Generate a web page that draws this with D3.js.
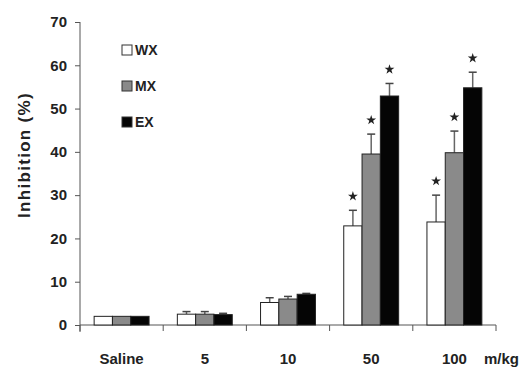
<!DOCTYPE html>
<html><head><meta charset="utf-8">
<script src="https://cdn.jsdelivr.net/npm/d3@7"></script>
<style>body{margin:0;background:#fff}svg{display:block}text{font-family:"Liberation Sans",Arial,sans-serif;font-weight:bold;fill:#222}</style>
</head><body>
<svg id="c" width="526" height="374"></svg>
<script>
const categories = ["Saline", "5", "10", "50", "100"];
const seriesNames = ["WX", "MX", "EX"];
const WX = [2.0, 2.5, 5.2, 22.9, 23.8];
const MX = [2.0, 2.5, 6.0, 39.5, 39.8];
const EX = [2.0, 2.4, 7.1, 52.9, 54.8];
const WXerr = [0, 0.6, 1.1, 3.6, 6.2];
const MXerr = [0, 0.6, 0.6, 4.6, 5.0];
const EXerr = [0, 0.3, 0.2, 2.9, 3.6];
const WXsig = [false, false, false, true, true];
const MXsig = [false, false, false, true, true];
const EXsig = [false, false, false, true, true];
const yTicks = [0, 10, 20, 30, 40, 50, 60, 70];
const unitLabel = "m/kg";
const yTitle = "Inhibition (%)";

const series = [
  {name: seriesNames[0], vals: WX, err: WXerr, sig: WXsig, fill: "#ffffff"},
  {name: seriesNames[1], vals: MX, err: MXerr, sig: MXsig, fill: "#8a8a8a"},
  {name: seriesNames[2], vals: EX, err: EXerr, sig: EXsig, fill: "#050505"}
];

const svg = d3.select("#c");
const L = 80, R = 496, T = 22, B = 325;
const x = d3.scaleBand().domain(categories).range([L, R]).paddingInner(0.34).paddingOuter(0.17);
const xs = d3.scaleBand().domain(seriesNames).range([0, x.bandwidth()]);
const y = d3.scaleLinear().domain([0, 70]).range([B, T]);

// y axis
const yAx = svg.append("g").attr("transform", `translate(${L},0)`)
  .call(d3.axisLeft(y).tickValues(yTicks).tickSize(5).tickPadding(8).tickSizeOuter(0));
yAx.select(".domain").attr("stroke", "#555").attr("d", `M0,${T}V${B+7}`);
yAx.selectAll(".tick line").attr("stroke", "#555");
yAx.selectAll("text").style("font-size", "15px").attr("fill", "#222");

// x axis line & ticks at category boundaries
const bounds = d3.range(categories.length + 1).map(i => L + i * (R - L) / categories.length);
svg.append("line").attr("x1", L).attr("x2", R).attr("y1", B).attr("y2", B).attr("stroke", "#555");
svg.selectAll(".xt").data(bounds).join("line").attr("x1", d => d).attr("x2", d => d)
  .attr("y1", B).attr("y2", B + 6).attr("stroke", "#555");
svg.selectAll(".xl").data(categories).join("text")
  .attr("x", d => x(d) + x.bandwidth() / 2).attr("y", 364).attr("text-anchor", "middle")
  .style("font-size", "15px").text(d => d);
svg.append("text").attr("x", 484).attr("y", 364).style("font-size", "15px").text(unitLabel);

// y title
svg.append("text").attr("transform", "translate(30,155) rotate(-90)").attr("text-anchor", "middle")
  .style("font-size", "17px").style("letter-spacing", "1.3px").text(yTitle);

// bars
series.forEach(s => {
  const g = svg.append("g");
  categories.forEach((c, i) => {
    const bx = x(c) + xs(s.name), bw = xs.bandwidth(), cx = bx + bw / 2;
    const top = y(s.vals[i] + s.err[i]);
    if (s.err[i] > 0) {
      g.append("line").attr("x1", cx).attr("x2", cx).attr("y1", y(s.vals[i])).attr("y2", top)
        .attr("stroke", "#666").attr("stroke-width", 1.5);
      g.append("line").attr("x1", cx - 4).attr("x2", cx + 4).attr("y1", top).attr("y2", top)
        .attr("stroke", "#444").attr("stroke-width", 1.5);
    }
    g.append("rect").attr("x", bx).attr("y", y(s.vals[i])).attr("width", bw)
      .attr("height", B - y(s.vals[i])).attr("fill", s.fill).attr("stroke", "#222").attr("stroke-width", 1);
    if (s.sig[i]) {
      g.append("path").attr("d", d3.symbol(d3.symbolStar, 30)())
        .attr("transform", `translate(${cx},${top - 14})`).attr("fill", "#222");
    }
  });
});

// legend
const lg = svg.append("g");
series.forEach((s, i) => {
  const cy = 50 + i * 36;
  lg.append("rect").attr("x", 122).attr("y", cy - 5).attr("width", 10).attr("height", 10)
    .attr("fill", s.fill).attr("stroke", "#333");
  lg.append("text").attr("x", 135).attr("y", cy + 5).style("font-size", "14px").text(s.name);
});
</script>
</body></html>
